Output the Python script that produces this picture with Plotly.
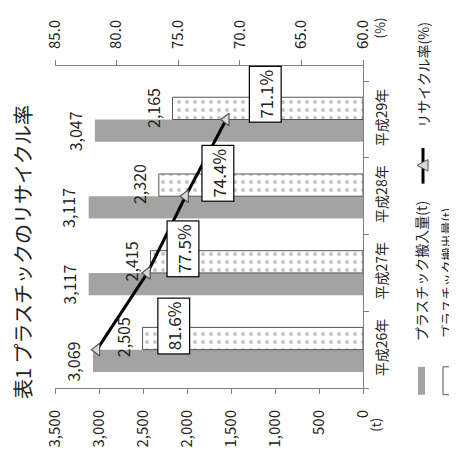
import plotly.graph_objects as go

# ---------------- data ----------------
categories = ["平成26年", "平成27年", "平成28年", "平成29年"]
inbound_t = [3069, 3117, 3117, 3047]      # プラスチック搬入量(t)
outbound_t = [2505, 2415, 2320, 2165]     # プラスチック搬出量(t)
recycle_rate = [81.6, 77.5, 74.4, 71.1]   # リサイクル率(%)
t_ticks = [0, 500, 1000, 1500, 2000, 2500, 3000, 3500]
pct_ticks = [60, 65, 70, 75, 80, 85]

# ---------------- style / layout ----------------
PAGE_W, PAGE_H = 457, 459
OFF = 8                      # default body margin of the page
W, H = PAGE_W - OFF, PAGE_H - OFF
L, R, T, B = 55, 363, 65, 399   # plot area in page pixels
label_dx = [77, 36, 32, 39]   # pixel offsets of the % boxes
label_dy = [24, 24, 23, 25]
FONT = "Noto Sans CJK JP"
TXT = "#222222"
AX = "#808080"
GRAY = "#a3a3a3"


def px(xp):
    return (xp - L) / (R - L)


def py(yp):
    return (B - yp) / (B - T)


fig = go.Figure()
fig.add_trace(go.Bar(
    y=categories, x=inbound_t, orientation="h", name="プラスチック搬入量(t)",
    marker=dict(color=GRAY, line=dict(width=0)),
))
fig.add_trace(go.Bar(
    y=categories, x=outbound_t, orientation="h", name="プラスチック搬出量(t)",
    marker=dict(color="white", line=dict(color="#555555", width=1),
                pattern=dict(shape=".", fgcolor="#8a8a8a", bgcolor="white",
                             size=8, solidity=0.2)),
))
fig.add_trace(go.Scatter(
    x=recycle_rate, y=categories, xaxis="x2", yaxis="y", name="リサイクル率(%)",
    mode="lines+markers", cliponaxis=False,
    line=dict(color="black", width=3),
    marker=dict(symbol="triangle-left", size=11, color="#d9d9d9",
                line=dict(color="#555555", width=1.2)),
))

annotations = []
# bar value labels (beyond the bar end)
for vals, ysh in [(inbound_t, -12), (outbound_t, 12)]:
    for c, v in zip(categories, vals):
        annotations.append(dict(
            xref="x", yref="y", x=v, y=c, text=f"{v:,}", showarrow=False,
            xshift=-20, yshift=ysh, xanchor="center", yanchor="middle",
            textangle=-90, font=dict(size=16, color=TXT, family=FONT),
        ))
# rate labels in boxes
for i, (c, r) in enumerate(zip(categories, recycle_rate)):
    annotations.append(dict(
        xref="x2", yref="y", x=r, y=c, text=f"{r:.1f}%", showarrow=False,
        xshift=label_dx[i], yshift=label_dy[i], xanchor="center", yanchor="middle",
        textangle=-90, bgcolor="white", bordercolor="black", borderwidth=1.2,
        borderpad=3, font=dict(size=17, color=TXT, family=FONT),
    ))

# title
annotations.append(dict(
    xref="paper", yref="paper", x=px(22), y=py(258), showarrow=False,
    text="表1 プラスチックのリサイクル率", textangle=-90,
    xanchor="center", yanchor="middle",
    font=dict(size=20, color=TXT, family=FONT),
))
# unit labels
annotations.append(dict(xref="paper", yref="paper", x=px(376), y=py(437),
                        text="(t)", showarrow=False, textangle=-90,
                        xanchor="center", yanchor="middle",
                        font=dict(size=13, color=TXT, family=FONT)))
annotations.append(dict(xref="paper", yref="paper", x=px(379), y=py(26),
                        text="(%)", showarrow=False, textangle=-90,
                        xanchor="center", yanchor="middle",
                        font=dict(size=13, color=TXT, family=FONT)))
# legend texts
for xp, yp, txt, fs in [(421, 278, "プラスチック搬入量(t)", 14),
                        (446, 280, "プラスチック搬出量(t)", 13),
                        (423, 74, "リサイクル率(%)", 14)]:
    annotations.append(dict(xref="paper", yref="paper", x=px(xp), y=py(yp),
                            text=txt, showarrow=False, textangle=-90,
                            xanchor="center", yanchor="middle", borderpad=0,
                            font=dict(size=fs, color=TXT, family=FONT)))

shapes = [
    dict(type="rect", xref="paper", yref="paper", x0=px(418), x1=px(425),
         y0=py(406), y1=py(377), fillcolor=GRAY, line=dict(width=0)),
    dict(type="rect", xref="paper", yref="paper", x0=px(443), x1=px(450),
         y0=py(406), y1=py(377), fillcolor="white",
         line=dict(color="#555555", width=1)),
    dict(type="line", xref="paper", yref="paper", x0=px(423), x1=px(423),
         y0=py(150), y1=py(187), line=dict(color="black", width=3)),
    dict(type="path", xref="paper", yref="paper",
         path=f"M {px(417)} {py(168)} L {px(428)} {py(162)} L {px(428)} {py(174)} Z",
         fillcolor="#d9d9d9", line=dict(color="#555555", width=1)),
]

fig.update_layout(
    width=W, height=H,
    margin=dict(l=L - OFF, r=PAGE_W - R, t=T - OFF, b=PAGE_H - B),
    paper_bgcolor="white", plot_bgcolor="white",
    barmode="group", bargap=0.42, bargroupgap=0,
    showlegend=False,
    font=dict(family=FONT, color=TXT),
    annotations=annotations, shapes=shapes,
    xaxis=dict(range=[3500, 0], tickvals=t_ticks, tickformat=",",
               tickangle=-90, ticks="outside", ticklen=5, tickcolor=AX,
               showline=True, linecolor=AX, showgrid=False, zeroline=False,
               ticklabelstandoff=10, tickfont=dict(size=15, color=TXT)),
    xaxis2=dict(overlaying="x", side="top", range=[85, 60], tickvals=pct_ticks,
                ticktext=[f"{v:.1f}" for v in pct_ticks], tickangle=-90,
                ticks="outside", ticklen=5, tickcolor=AX, showline=True,
                linecolor=AX, showgrid=False, zeroline=False,
                ticklabelstandoff=8, tickfont=dict(size=15, color=TXT)),
    yaxis=dict(side="right", categoryorder="array", categoryarray=categories,
               tickangle=-90, ticks="outside", ticklen=5, tickcolor=AX,
               tickson="boundaries", showline=True, linecolor=AX,
               showgrid=False, zeroline=False, ticklabelstandoff=6,
               tickfont=dict(size=14, color=TXT)),
)

fig.write_html("out.html")
